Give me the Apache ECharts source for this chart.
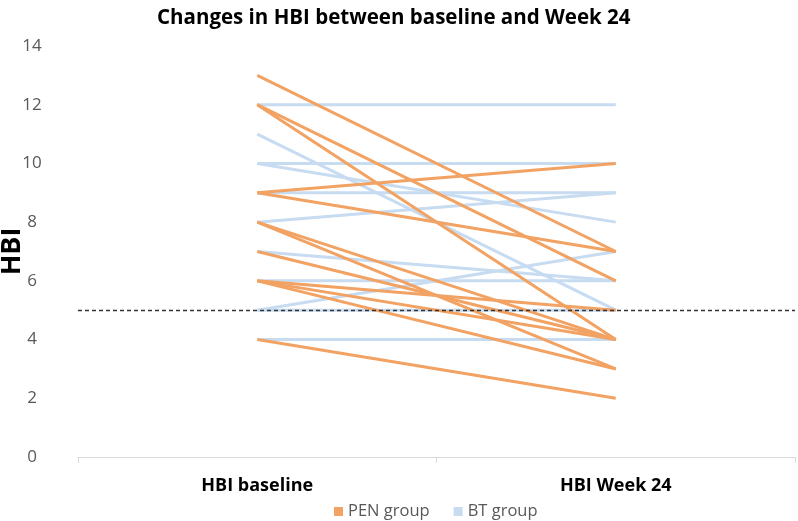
<!DOCTYPE html>
<html>
<head>
<meta charset="utf-8">
<script src="https://cdn.jsdelivr.net/npm/echarts@6/dist/echarts.min.js"></script>
<style>
html,body{margin:0;padding:0;background:#fff;}
#chart{width:798px;height:521px;}
</style>
</head>
<body>
<div id="chart"></div>
<script>
const categories = ['HBI baseline', 'HBI Week 24'];
const yTicks = [0, 2, 4, 6, 8, 10, 12, 14];
const penBaseline = [13, 12, 12, 9, 9, 8, 8, 7, 6, 6, 6, 4];
const penWeek24   = [7, 6, 4, 10, 7, 4, 3, 4, 5, 4, 3, 2];
const btBaseline  = [12, 11, 10, 10, 9, 8, 7, 6, 5, 5, 4];
const btWeek24    = [12, 5, 10, 8, 9, 9, 6, 6, 7, 5, 4];
const cutoff = 5;

const FONT = "'Open Sans', sans-serif";
const PEN_COLOR = '#F2A262';
const BT_COLOR = '#C7DBF1';

const series = [];
btBaseline.forEach((b, i) => {
  series.push({
    name: 'BT group', type: 'line', data: [b, btWeek24[i]],
    symbol: 'none', lineStyle: {color: BT_COLOR, width: 3}, itemStyle: {color: BT_COLOR},
    z: 2, silent: true
  });
});
penBaseline.forEach((b, i) => {
  series.push({
    name: 'PEN group', type: 'line', data: [b, penWeek24[i]],
    symbol: 'none', lineStyle: {color: PEN_COLOR, width: 3}, itemStyle: {color: PEN_COLOR},
    z: 3, silent: true
  });
});
series.push({
  name: 'cutoff', type: 'line', data: [], z: 5,
  markLine: {
    silent: true, symbol: 'none', label: {show: false},
    lineStyle: {color: '#333', type: [4, 3], width: 1.3},
    data: [{yAxis: cutoff}]
  }
});

const chart = echarts.init(document.getElementById('chart'));
chart.setOption({
  animation: false,
  title: {
    text: 'Changes in HBI between baseline and Week 24',
    left: 152, top: 3,
    textStyle: {fontFamily: FONT, fontWeight: 'bold', fontSize: 20.5, color: '#000'}
  },
  legend: {
    data: ['PEN group', 'BT group'],
    top: 498, left: 329,
    icon: 'rect', itemWidth: 9, itemHeight: 9, itemGap: 24,
    textStyle: {fontFamily: FONT, fontSize: 16.5, color: '#595959'}
  },
  grid: {left: 78, right: 3, top: 46, bottom: 64, containLabel: false, outerBoundsMode: 'none'},
  xAxis: {
    type: 'category', data: categories, boundaryGap: true,
    axisLine: {lineStyle: {color: '#D9D9D9', width: 1}},
    axisTick: {show: true, length: 6, lineStyle: {color: '#D9D9D9'}},
    axisLabel: {fontFamily: FONT, fontWeight: 'bold', fontSize: 18, color: '#000', margin: 20}
  },
  yAxis: {
    type: 'value', min: yTicks[0], max: yTicks[yTicks.length - 1], interval: 2,
    name: 'HBI', nameLocation: 'middle', nameGap: 52, nameRotate: 90, nameMoveOverlap: false,
    nameTextStyle: {fontFamily: FONT, fontWeight: 'bold', fontSize: 27, color: '#000'},
    axisLine: {show: false}, axisTick: {show: false},
    splitLine: {show: false},
    axisLabel: {fontFamily: FONT, fontSize: 17, color: '#595959', margin: 46, align: 'center'}
  },
  series: series
});
</script>
</body>
</html>
